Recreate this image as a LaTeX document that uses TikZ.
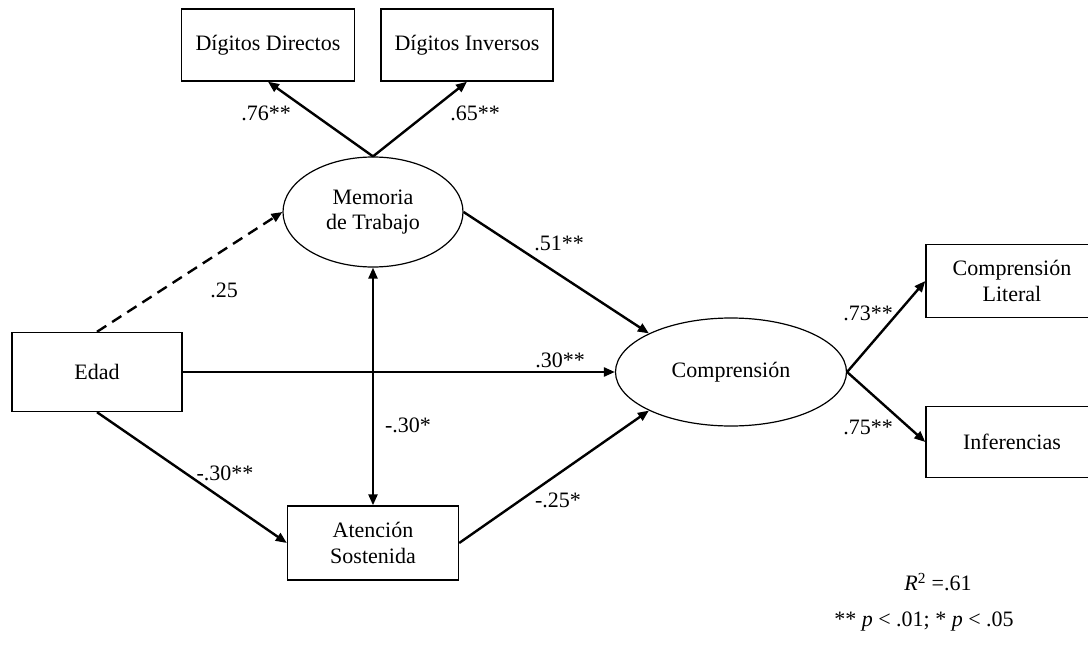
\documentclass[tikz,border=0pt]{standalone}
\usepackage{fontspec}
\setmainfont{Liberation Serif}
\usetikzlibrary{shapes,arrows.meta,positioning,calc}

\tikzset{
  box/.style={draw, line width=1.4pt, inner sep=0pt, align=center,
    font=\fontsize{22}{25.5}\selectfont},
  latent/.style={draw, ellipse, line width=1.2pt, inner sep=0pt, align=center,
    font=\fontsize{22}{25.5}\selectfont},
  path/.style={line width=2.4pt, -{Triangle[length=11pt,width=9pt]}},
  coef/.style={inner sep=0pt, font=\fontsize{22}{25.5}\selectfont},
}

\begin{document}
\begin{tikzpicture}[x=1pt,y=-1pt]
    \useasboundingbox (0,0) rectangle (1088,645);
    \clip (0,0) rectangle (1088,645);
    % Indicadores de memoria
    \node [box, minimum width=173pt, minimum height=72pt] (DD) at (268,45) {Dígitos Directos};
    \node [box, minimum width=172pt, minimum height=72pt] (DI) at (467,45) {Dígitos Inversos};
    % Latentes
    \node [latent, minimum width=180pt, minimum height=110pt] (M) at (373,212) {Memoria\\de Trabajo};
    \node [latent, minimum width=231pt, minimum height=108pt] (C) at (731,372) {Comprensión};
    % Observadas
    \node [box, minimum width=170pt, minimum height=79pt] (E) at (97,372) {Edad};
    \node [box, minimum width=171pt, minimum height=74pt] (A) at (373,543) {Atención\\Sostenida};
    \node [box, minimum width=172pt, minimum height=73pt] (CL) at (1012,281) {Comprensión\\Literal};
    \node [box, minimum width=172pt, minimum height=71pt] (I) at (1012,442) {Inferencias};
    % Trayectorias
    \draw [path] (M.north) -- (DD.south);
    \draw [path] (M.north) -- (DI.south);
    \draw [path, dash pattern=on 11pt off 7pt] (E.north) -- (M.west);
    \draw [path] (M.east) -- (C.north west);
    \draw [path] (E.east) -- (C.west);
    \draw [path, {Triangle[length=11pt,width=9pt]}-{Triangle[length=11pt,width=9pt]}] (M.south) -- (A.north);
    \draw [path] (E.south) -- (A.west);
    \draw [path] (A.east) -- (C.south west);
    \draw [path] (C.east) -- (CL.west);
    \draw [path] (C.east) -- (I.west);
    % Coeficientes
    \node [coef] (c1) at (266,113) {.76**};
    \node [coef] (c2) at (475,113) {.65**};
    \node [coef] (c3) at (224,290) {.25};
    \node [coef] (c4) at (559,243) {.51**};
    \node [coef] (c5) at (560,360) {.30**};
    \node [coef] (c6) at (408,425) {-.30*};
    \node [coef] (c7) at (225,473) {-.30**};
    \node [coef] (c8) at (558,500) {-.25*};
    \node [coef] (c9) at (868,313) {.73**};
    \node [coef] (c10) at (868,427) {.75**};
    % Notas
    \node [coef] (r2) at (938,582) {\textit{R}\textsuperscript{2} =.61};
    \node [coef] (sig) at (924,622) {** \textit{p} < .01; * \textit{p} < .05};
\end{tikzpicture}
\end{document}
